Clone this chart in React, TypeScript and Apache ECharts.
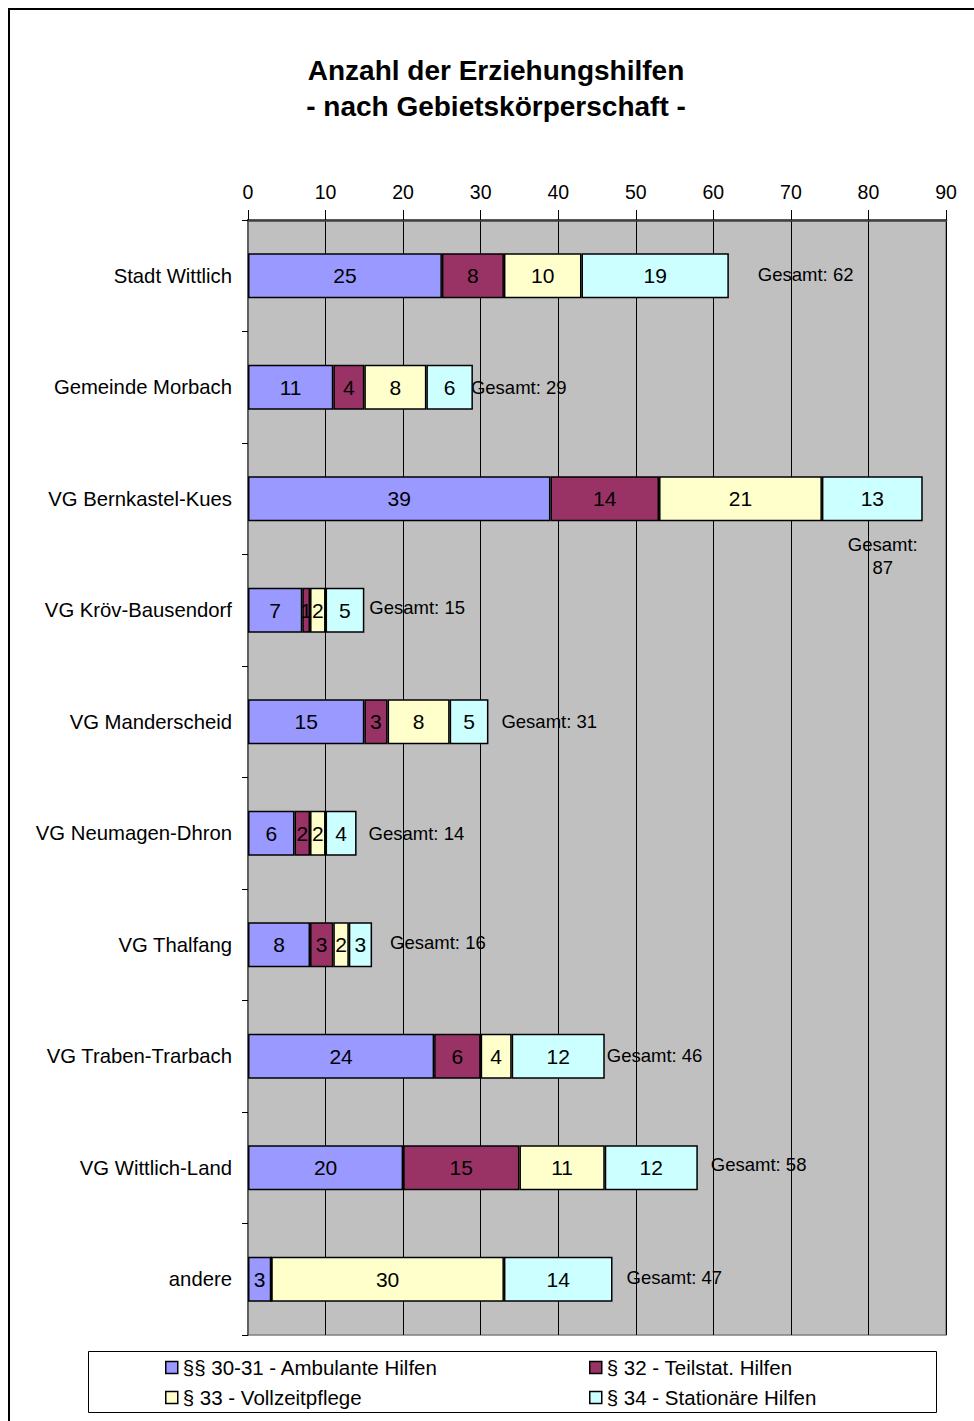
import React, { useEffect, useRef } from "react";
import * as echarts from "echarts";

const categories = [
  "Stadt Wittlich",
  "Gemeinde Morbach",
  "VG Bernkastel-Kues",
  "VG Kröv-Bausendorf",
  "VG Manderscheid",
  "VG Neumagen-Dhron",
  "VG Thalfang",
  "VG Traben-Trarbach",
  "VG Wittlich-Land",
  "andere",
];
const seriesNames = [
  "§§ 30-31 - Ambulante Hilfen",
  "§ 32 - Teilstat. Hilfen",
  "§ 33 - Vollzeitpflege",
  "§ 34 - Stationäre Hilfen",
];
const ambulante = [25, 11, 39, 7, 15, 6, 8, 24, 20, 3];
const teilstat = [8, 4, 14, 1, 3, 2, 3, 6, 15, 0];
const vollzeit = [10, 8, 21, 2, 8, 2, 2, 4, 11, 30];
const stationaer = [19, 6, 13, 5, 5, 4, 3, 12, 12, 14];
const xTicks = [0, 90, 10];

// label placement (style only)
const gesamtOffsets: [number, number][] = [
  [29, -1], [-2, 0], [-40, 57], [5, -3], [13, 0], [12, 0], [18, -2], [2, -1], [13, -3], [14, -2],
];

const colors = ["#9999FF", "#993366", "#FFFFCC", "#CCFFFF"];

export default function App() {
  const ref = useRef<HTMLDivElement>(null);
  useEffect(() => {
    document.body.style.margin = "0";
    const chart = echarts.init(ref.current!, null, { renderer: "svg" });
    const values = [ambulante, teilstat, vollzeit, stationaer];
    const totals = categories.map((_, i) => values.reduce((s, a) => s + a[i], 0));
    const font = "Liberation Sans, Arial, sans-serif";
    const stacked = values.map((arr, k) => ({
      name: seriesNames[k],
      type: "bar",
      stack: "total",
      barWidth: 45,
      data: arr,
      itemStyle: { color: colors[k], borderColor: "#000", borderWidth: 1.5 },
      label: {
        show: true,
        position: "inside",
        fontSize: 21,
        fontFamily: font,
        color: "#000",
        formatter: (p: any) => (p.value ? String(p.value) : ""),
      },
      z: 3,
    }));
    const gesamt = {
      name: "Gesamt",
      type: "bar",
      barWidth: 45,
      barGap: "-100%",
      silent: true,
      z: 1,
      itemStyle: { color: "rgba(0,0,0,0)" },
      data: totals.map((t, i) => {
        const multi = i === 2;
        return {
          value: t,
          label: {
            show: true,
            position: "right",
            distance: 0,
            offset: gesamtOffsets[i],
            align: multi ? "center" : "left",
            lineHeight: 23,
            formatter: multi ? `Gesamt:\n${t}` : `Gesamt: ${t}`,
          },
        };
      }),
      label: { fontSize: 18.5, fontFamily: font, color: "#000" },
    };
    const legendBase = {
      orient: "vertical",
      top: 1352,
      itemWidth: 12,
      itemHeight: 12,
      itemGap: 9,
      icon: "rect",
      itemStyle: { borderColor: "#000", borderWidth: 1.5 },
      textStyle: { fontSize: 20.5, color: "#000", fontFamily: font },
    };
    chart.setOption({
      animation: false,
      textStyle: { fontFamily: font },
      title: {
        text: "Anzahl der Erziehungshilfen\n- nach Gebietskörperschaft -",
        left: 491,
        textAlign: "center",
        top: 47,
        textStyle: { fontSize: 28, fontWeight: "bold", color: "#000", lineHeight: 36, fontFamily: font },
      },
      grid: {
        left: 248,
        right: 28,
        top: 220,
        bottom: 86,
        show: true,
        backgroundColor: "#C0C0C0",
        borderColor: "#808080",
        borderWidth: 1.5,
      },
      xAxis: {
        type: "value",
        position: "top",
        min: xTicks[0],
        max: xTicks[1],
        interval: xTicks[2],
        axisLine: { show: true, lineStyle: { color: "#404040", width: 2.5 } },
        axisTick: { show: true, length: 10, lineStyle: { color: "#000", width: 1 } },
        axisLabel: { fontSize: 19.5, color: "#000", margin: 18, fontFamily: font },
        splitLine: { show: true, lineStyle: { color: "#000", width: 1 } },
      },
      yAxis: {
        type: "category",
        inverse: true,
        data: categories,
        axisLine: { show: true, lineStyle: { color: "#606060", width: 2 } },
        axisTick: { show: true, length: 6, lineStyle: { color: "#000" } },
        axisLabel: { fontSize: 20.3, color: "#000", margin: 16, fontFamily: font },
      },
      legend: [
        { ...legendBase, data: [seriesNames[0], seriesNames[2]], left: 160 },
        { ...legendBase, data: [seriesNames[1], seriesNames[3]], left: 584 },
      ],
      graphic: [
        {
          type: "rect",
          shape: { x: 9, y: 9, width: 1000, height: 1440 },
          style: { fill: "none", stroke: "#000", lineWidth: 2 },
          z: -1,
        },
        {
          type: "rect",
          shape: { x: 88.5, y: 1351.5, width: 848, height: 61 },
          style: { fill: "#fff", stroke: "#000", lineWidth: 1 },
          z: -1,
        },
      ],
      series: [...stacked, gesamt],
    });
    return () => chart.dispose();
  }, []);
  return <div ref={ref} style={{ width: 974, height: 1421 }} />;
}
